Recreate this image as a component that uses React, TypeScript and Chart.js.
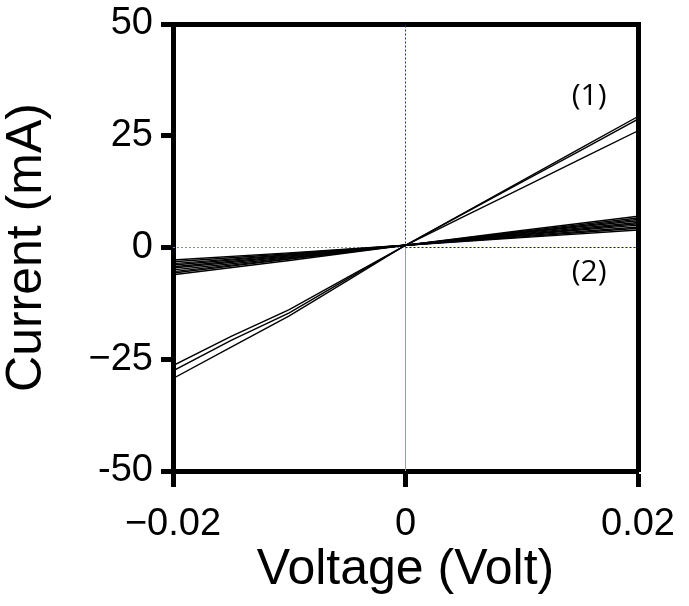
import React, { useEffect, useRef } from "react";
import { Chart, registerables } from "chart.js";

Chart.register(...registerables);

// ---- data ----
const xMin = -0.02;
const xMax = 0.02;
const yMin = -50;
const yMax = 50;

const xTickValues = [-0.02, 0, 0.02];
const xTickLabels = ["\u22120.02", "0", "0.02"];
const yTickValues = [-50, -25, 0, 25, 50];
const yTickLabels = ["-50", "\u221225", "0", "25", "50"];

// group (1): three steep I-V curves
const voltage1 = [-0.02, -0.015, -0.01, -0.005, 0, 0.005, 0.01, 0.015, 0.02];
const current1a = [-29.3, -22.3, -15.3, -7.4, 0.5, 7.7, 14.9, 22.1, 29.3];
const current1b = [-27.6, -20.8, -14.6, -7.0, 0.5, 7.6, 14.6, 21.6, 28.7];
const current1c = [-26.4, -19.9, -13.9, -6.7, 0.5, 6.9, 13.3, 19.7, 26.1];

// group (2): bundle of shallow I-V curves
const voltage2 = [-0.02, -0.01, 0, 0.01, 0.02];
const current2a = [-6.1, -2.9, 0.5, 3.8, 7.0];
const current2b = [-5.7, -2.6, 0.5, 3.6, 6.6];
const current2c = [-5.4, -2.5, 0.5, 3.4, 6.3];
const current2d = [-5.0, -2.3, 0.5, 3.3, 6.0];
const current2e = [-4.6, -2.1, 0.5, 3.1, 5.6];
const current2f = [-4.3, -1.9, 0.5, 2.9, 5.3];
const current2g = [-3.9, -1.7, 0.5, 2.8, 5.0];
const current2h = [-3.6, -1.6, 0.5, 2.6, 4.6];
const current2i = [-3.2, -1.4, 0.5, 2.4, 4.3];
const current2j = [-2.8, -1.2, 0.5, 2.2, 3.9];

const group1 = [current1a, current1b, current1c];
const group2 = [current2a, current2b, current2c, current2d, current2e, current2f, current2g, current2h, current2i, current2j];

// curve annotations
const noteTexts = ["(1)", "(2)"];
const noteX = [0.0158, 0.0158];
const noteY = [33.7, -5.5];

const TICK_FONT = '"Liberation Sans", Arial, Helvetica, sans-serif';

const notesPlugin = {
  id: "curveNotes",
  afterDatasetsDraw(chart: any) {
    const { ctx, scales } = chart;
    const xs = scales.x;
    const ys = scales.y;
    ctx.save();
    ctx.font = '30px "Open Sans", "Noto Sans", sans-serif';
    ctx.fillStyle = "#000";
    ctx.textAlign = "center";
    ctx.textBaseline = "middle";
    noteTexts.forEach((t, i) => {
      ctx.fillText(t, xs.getPixelForValue(noteX[i]), ys.getPixelForValue(noteY[i]));
    });
    ctx.restore();
  },
};

function toPoints(xs: number[], ys: number[]) {
  return xs.map((x, i) => ({ x, y: ys[i] }));
}

export default function App() {
  const ref = useRef<HTMLCanvasElement | null>(null);

  useEffect(() => {
    if (!ref.current) return;

    const curveSets = [
      ...group1.map((c, i) => ({
        label: "curve 1-" + (i + 1),
        data: toPoints(voltage1, c),
        borderColor: "#000",
        borderWidth: 1.4,
        pointRadius: 0,
        tension: 0,
        order: 1,
      })),
      ...group2.map((c, i) => ({
        label: "curve 2-" + (i + 1),
        data: toPoints(voltage2, c),
        borderColor: "#000",
        borderWidth: 1.4,
        pointRadius: 0,
        tension: 0,
        order: 1,
      })),
    ];

    const refSets = [
      {
        label: "zero-v-upper",
        data: [{ x: 0, y: 0 }, { x: 0, y: yMax }],
        borderColor: "#2020ff",
        borderWidth: 1,
        borderDash: [2, 2],
        pointRadius: 0,
        order: 5,
      },
      {
        label: "zero-v-lower",
        data: [{ x: 0, y: yMin }, { x: 0, y: 0 }],
        borderColor: "#9090ff",
        borderWidth: 1,
        pointRadius: 0,
        order: 5,
      },
      {
        label: "zero-h-left",
        data: [{ x: xMin, y: 0 }, { x: 0, y: 0 }],
        borderColor: "#8080ff",
        borderWidth: 1,
        borderDash: [2, 2],
        pointRadius: 0,
        order: 5,
      },
      {
        label: "zero-h-right",
        data: [{ x: 0, y: 0 }, { x: xMax, y: 0 }],
        borderColor: "#0000e0",
        borderWidth: 1,
        borderDash: [2, 2],
        pointRadius: 0,
        order: 5,
      },
    ];

    const chart = new Chart(ref.current, {
      type: "line",
      data: { datasets: [...curveSets, ...refSets] as any },
      plugins: [notesPlugin],
      options: {
        animation: false,
        responsive: false,
        devicePixelRatio: 1,
        layout: { padding: { left: 0, right: 51, top: 24, bottom: 0 } },
        plugins: { legend: { display: false }, tooltip: { enabled: false } },
        scales: {
          x: {
            type: "linear",
            position: "bottom",
            min: xMin,
            max: xMax,
            afterBuildTicks: (s: any) => {
              s.ticks = xTickValues.map((v) => ({ value: v }));
            },
            afterFit: (s: any) => {
              s.height = 135;
            },
            ticks: {
              color: "#000",
              padding: 0,
              maxRotation: 0,
              autoSkip: false,
              font: { size: 38, family: TICK_FONT, lineHeight: 2.0 },
              callback: (v: any) => {
                const i = xTickValues.findIndex((t) => Math.abs(t - Number(v)) < 1e-9);
                return i >= 0 ? xTickLabels[i] : "";
              },
            },
            grid: {
              display: true,
              drawOnChartArea: false,
              drawTicks: true,
              tickLength: 16,
              tickWidth: 5,
              tickColor: "#000",
              color: "#000",
            },
            border: { display: true, color: "#000", width: 5 },
            title: {
              display: true,
              text: "Voltage (Volt)",
              color: "#000",
              font: { size: 50, family: TICK_FONT, lineHeight: 1.2 },
              padding: { top: 0, bottom: 6 },
            },
          },
          y: {
            type: "linear",
            position: "left",
            min: yMin,
            max: yMax,
            afterBuildTicks: (s: any) => {
              s.ticks = yTickValues.map((v) => ({ value: v }));
            },
            afterFit: (s: any) => {
              s.width = 173;
            },
            ticks: {
              color: "#000",
              padding: 8,
              autoSkip: false,
              font: { size: 38, family: TICK_FONT, lineHeight: 0.6 },
              callback: (v: any) => {
                const i = yTickValues.findIndex((t) => Math.abs(t - Number(v)) < 1e-9);
                return i >= 0 ? yTickLabels[i] : "";
              },
            },
            grid: {
              display: true,
              drawOnChartArea: false,
              drawTicks: true,
              tickLength: 12,
              tickWidth: 5,
              tickColor: "#000",
              color: "#000",
            },
            border: { display: true, color: "#000", width: 5 },
            title: {
              display: true,
              text: "Current (mA)",
              color: "#000",
              font: { size: 50, family: TICK_FONT, lineHeight: 1.1 },
              padding: { top: 0, bottom: 0 },
            },
          },
          x2: {
            type: "linear",
            position: "top",
            min: xMin,
            max: xMax,
            ticks: { display: false },
            grid: { display: false, drawOnChartArea: false, drawTicks: false },
            border: { display: true, color: "#000", width: 5 },
          },
          y2: {
            type: "linear",
            position: "right",
            min: yMin,
            max: yMax,
            ticks: { display: false },
            grid: { display: false, drawOnChartArea: false, drawTicks: false },
            border: { display: true, color: "#000", width: 5 },
          },
        },
      } as any,
    });

    return () => chart.destroy();
  }, []);

  return (
    <div style={{ position: "absolute", left: 0, top: 0, width: 689, height: 606, background: "#fff" }}>
      <canvas ref={ref} width={689} height={606} style={{ width: 689, height: 606, display: "block" }} />
    </div>
  );
}
